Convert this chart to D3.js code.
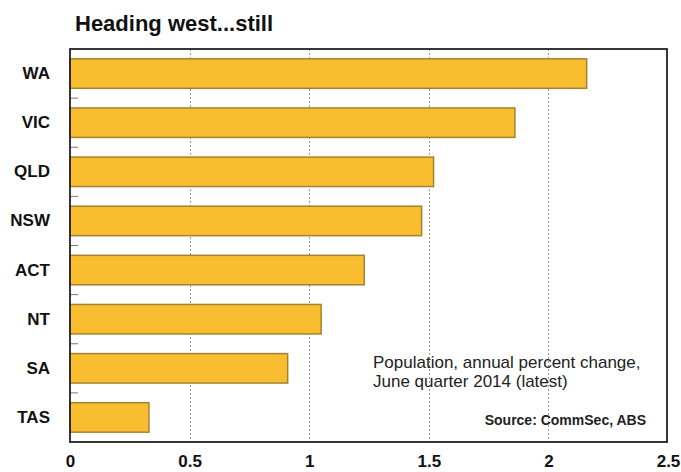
<!DOCTYPE html>
<html>
<head>
<meta charset="utf-8">
<script src="https://cdn.jsdelivr.net/npm/d3@7"></script>
<style>
	body { margin: 0; background: #fff; }
	svg { display: block; font-family: "Liberation Sans", Arial, sans-serif; }
</style>
</head>
<body>
<svg width="681" height="472"></svg>
<script>
var states = ["WA", "VIC", "QLD", "NSW", "ACT", "NT", "SA", "TAS"]
var popChange = [2.16, 1.86, 1.52, 1.47, 1.23, 1.05, 0.91, 0.33]
var xTicks = [0, 0.5, 1, 1.5, 2, 2.5]
var xTickLabels = ["0", "0.5", "1", "1.5", "2", "2.5"]

function drawChart() {
	var svg = d3.select("svg"),
		left = 70,
		right = 668,
		top = 49,
		bottom = 442;

	var x = d3.scaleLinear().domain([0, 2.5]).range([left, right])
	var y = d3.scaleBand().domain(states).range([top, bottom])
		.paddingInner(0.4).paddingOuter(0.2)

	svg.append("text")
		.attr("x", 75)
		.attr("y", 31)
		.attr("font-size", 22)
		.attr("font-weight", "bold")
		.attr("fill", "#111")
		.text("Heading west...still")

	// dotted gridlines
	svg.append("g")
		.selectAll("line")
		.data(xTicks.slice(1, -1))
		.join("line")
		.attr("x1", function(d) { return Math.round(x(d)) + .5 })
		.attr("x2", function(d) { return Math.round(x(d)) + .5 })
		.attr("y1", top)
		.attr("y2", bottom)
		.attr("stroke", "#999")
		.attr("stroke-width", 1)
		.attr("stroke-dasharray", "2,2")

	// small ticks between the bars
	var step = y.step()
	svg.append("g")
		.selectAll("line")
		.data(d3.range(1, states.length))
		.join("line")
		.attr("x1", left)
		.attr("x2", left + 8)
		.attr("y1", function(i) { return top + i * step })
		.attr("y2", function(i) { return top + i * step })
		.attr("stroke", "#777")
		.attr("stroke-width", 1)

	svg.append("g")
		.selectAll("rect")
		.data(states)
		.join("rect")
		.attr("x", x(0))
		.attr("y", function(d) { return y(d) })
		.attr("width", function(d, i) { return x(popChange[i]) - x(0) })
		.attr("height", y.bandwidth())
		.attr("fill", "#F9BE30")
		.attr("stroke", "#A38330")
		.attr("stroke-width", 1.5)

	// plot frame
	svg.append("rect")
		.attr("x", left)
		.attr("y", top)
		.attr("width", right - 1 - left)
		.attr("height", bottom - top)
		.attr("fill", "none")
		.attr("stroke", "#222")
		.attr("stroke-width", 1.8)

	var yAxis = d3.axisLeft(y).tickSize(0).tickPadding(20)
	svg.append("g")
		.attr("transform", "translate(" + left + ",0)")
		.call(yAxis)
		.call(function(g) { g.select(".domain").remove() })
		.selectAll("text")
		.attr("font-size", 17)
		.attr("font-weight", "bold")
		.attr("font-family", "Liberation Sans, Arial, sans-serif")
		.attr("fill", "#111")

	var xAxis = d3.axisBottom(x).tickValues(xTicks)
		.tickFormat(function(d, i) { return xTickLabels[i] })
		.tickSize(0).tickPadding(13)
	svg.append("g")
		.attr("transform", "translate(0," + bottom + ")")
		.call(xAxis)
		.call(function(g) { g.select(".domain").remove() })
		.selectAll("text")
		.attr("font-size", 17)
		.attr("font-weight", "bold")
		.attr("font-family", "Liberation Sans, Arial, sans-serif")
		.attr("fill", "#111")

	var note = svg.append("g").attr("fill", "#222")
	note.append("text")
		.attr("x", 373).attr("y", 368)
		.attr("font-size", 17)
		.text("Population, annual percent change,")
	note.append("text")
		.attr("x", 373).attr("y", 387)
		.attr("font-size", 17)
		.text("June quarter 2014 (latest)")
	note.append("text")
		.attr("x", 646).attr("y", 425)
		.attr("text-anchor", "end")
		.attr("font-size", 14)
		.attr("font-weight", "bold")
		.text("Source: CommSec, ABS")
}

drawChart()
</script>
</body>
</html>
